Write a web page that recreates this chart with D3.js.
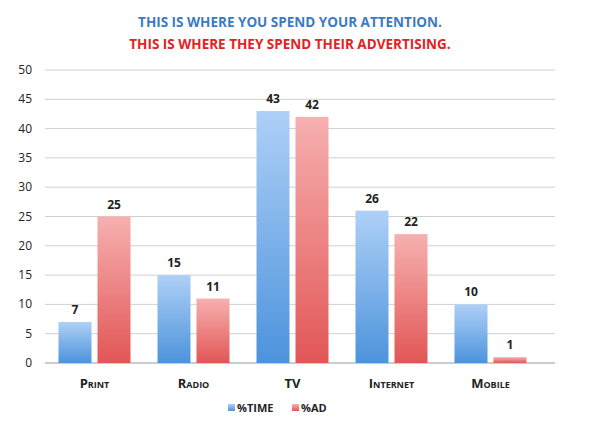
<!DOCTYPE html><html><head><script src="https://cdn.jsdelivr.net/npm/d3@7"></script>
<style>body{margin:0;background:#fff}text{font-family:"Open Sans",sans-serif}</style></head><body>
<svg id="c" width="600" height="422"></svg>
<script>
const categories=["Print","Radio","TV","Internet","Mobile"];
const timeVals=[7,15,43,26,10];
const adVals=[25,11,42,22,1];
const seriesNames=["%TIME","%AD"];
const yTicks=[0,5,10,15,20,25,30,35,40,45,50];
const svg=d3.select("#c");
const defs=svg.append("defs");
const g1=defs.append("linearGradient").attr("id","gb").attr("x1",0).attr("x2",0).attr("y1",0).attr("y2",1);
g1.append("stop").attr("offset","0%").attr("stop-color","#aed0f7");
g1.append("stop").attr("offset","100%").attr("stop-color","#4d93dc");
const g2=defs.append("linearGradient").attr("id","gr").attr("x1",0).attr("x2",0).attr("y1",0).attr("y2",1);
g2.append("stop").attr("offset","0%").attr("stop-color","#f7b0b0");
g2.append("stop").attr("offset","100%").attr("stop-color","#e25656");
const x=d3.scaleBand().domain(categories).range([45,540]);
const y=d3.scaleLinear().domain([0,50]).range([363,70]);
svg.append("g").selectAll("line").data(yTicks).join("line").attr("x1",45).attr("x2",555)
 .attr("y1",d=>y(d)).attr("y2",d=>y(d)).attr("stroke",d=>d===0?"#999":"#d0d0d0").attr("stroke-width",1);
svg.append("g").selectAll("text").data(yTicks).join("text").attr("x",32).attr("y",d=>y(d)+4)
 .attr("text-anchor","end").attr("font-size",12).attr("fill","#222").text(d=>d);
const bw=33,gap=6;
const series=[{v:timeVals,f:"url(#gb)",off:-bw-gap/2},{v:adVals,f:"url(#gr)",off:gap/2}];
series.forEach(s=>{
 const c=x.bandwidth()/2;
 svg.append("g").selectAll("rect").data(categories).join("rect")
  .attr("x",(d)=>x(d)+c+s.off).attr("width",bw)
  .attr("y",(d,i)=>y(s.v[i])).attr("height",(d,i)=>y(0)-y(s.v[i])).attr("fill",s.f);
 svg.append("g").selectAll("text").data(categories).join("text")
  .attr("x",d=>x(d)+c+s.off+bw/2).attr("y",(d,i)=>y(s.v[i])-8)
  .attr("text-anchor","middle").attr("font-size",12).attr("font-weight","bold").attr("fill","#222").text((d,i)=>s.v[i]);
});
svg.append("g").selectAll("text").data(categories).join("text")
 .attr("x",d=>x(d)+x.bandwidth()/2).attr("y",388).attr("text-anchor","middle")
 .attr("font-size",13).attr("font-weight","bold").style("font-variant","small-caps").attr("fill","#222").text(d=>d);
svg.append("text").attr("x",290).attr("y",27).attr("text-anchor","middle").attr("font-size",13.5).attr("font-weight","bold").attr("fill","#3a7bc4").text("THIS IS WHERE YOU SPEND YOUR ATTENTION.");
svg.append("text").attr("x",290).attr("y",49).attr("text-anchor","middle").attr("font-size",13.5).attr("font-weight","bold").attr("fill","#e32222").text("THIS IS WHERE THEY SPEND THEIR ADVERTISING.");
const lg=[{n:seriesNames[0],f:"url(#gb)",x:228},{n:seriesNames[1],f:"url(#gr)",x:292}];
lg.forEach(l=>{svg.append("rect").attr("x",l.x).attr("y",404).attr("width",7).attr("height",7).attr("fill",l.f);
 svg.append("text").attr("x",l.x+9).attr("y",412).attr("font-size",11).attr("font-weight","bold").attr("fill","#222").text(l.n);});
</script></body></html>
